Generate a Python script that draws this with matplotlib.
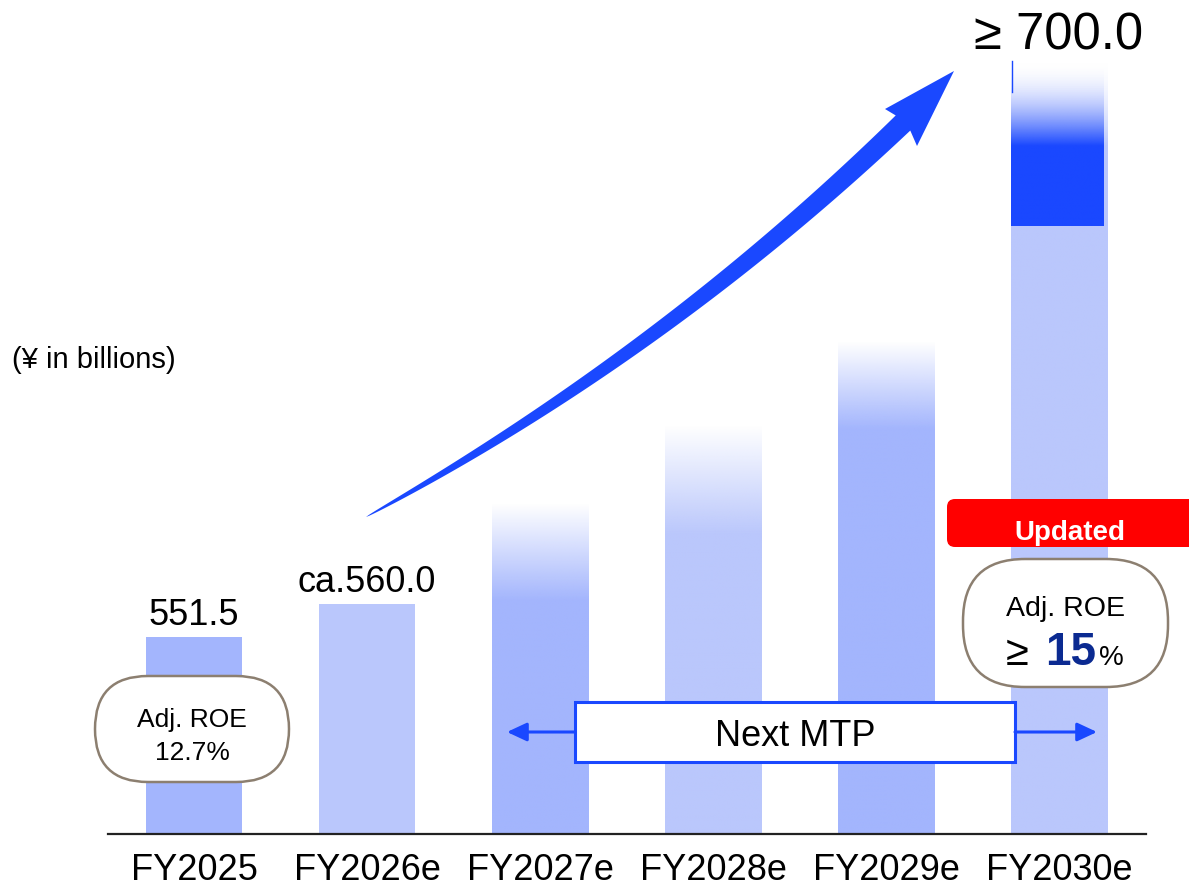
import numpy as np
import matplotlib
matplotlib.use("Agg")
import matplotlib.pyplot as plt
from matplotlib.patches import FancyBboxPatch, Rectangle, Polygon
from matplotlib.colors import to_rgba

plt.rcParams['font.family'] = ['Liberation Sans', 'DejaVu Sans']

# ---- data ----
years = ["FY2025", "FY2026e", "FY2027e", "FY2028e", "FY2029e", "FY2030e"]
values = [551.5, 560.0, 586.0, 606.0, 627.5, 700.0]
value_labels = ["551.5", "ca.560.0", "", "", "", "≥ 700.0"]
fade_from = [None, None, 561.0, 578.0, 605.0, 678.0]   # solid fill ends, fade begins
upside_from = 657.4                                   # FY2030e dark upside segment start
roe_now = "12.7%"
roe_target = "15"

# ---- styles ----
C_DARK = "#A3B5FD"
C_LIGHT = "#BAC7FC"
C_BLUE = "#1A48FF"
C_NAVY = "#0B2A91"
C_EDGE = "#8C7F70"
bar_colors = [C_DARK, C_LIGHT, C_DARK, C_LIGHT, C_DARK, C_LIGHT]

W, H = 1189, 887
fig = plt.figure(figsize=(W / 100, H / 100), dpi=100)

base_px = 835
y0, y1 = 500.75, 715.85
ax = fig.add_axes([0, (H - base_px) / H, 1, base_px / H])
width = 0.555


def gradient_bar(x, lo, fade, hi, w, color, power=1.0, z=2):
    """Bar from lo to hi: solid up to `fade`, then fading to transparent at hi."""
    bar = ax.bar(x, hi - lo, bottom=lo, width=w, color='none', lw=0, zorder=z)[0]
    n = 600
    yy = np.linspace(lo, hi, n)
    s = np.clip((yy - fade) / (hi - fade), 0, 1)
    img = np.tile(np.array(to_rgba(color)), (n, 1, 1))
    img[:, 0, 3] = (1 - s) ** power
    im = ax.imshow(img, extent=(x - w, x + w, lo, hi), origin='lower',
                   aspect='auto', interpolation='bilinear', zorder=z)
    im.set_clip_path(bar)


for i, (v, f, c) in enumerate(zip(values, fade_from, bar_colors)):
    if f is None:
        ax.bar(i, v - y0, bottom=y0, width=width, color=c, lw=0, zorder=2)
    elif i < len(values) - 1:
        gradient_bar(i, y0, f, v, width, c)
    else:
        # light base bar plus a dark upside segment, both fading out at the top
        gradient_bar(i, y0, f, v, width, c, power=1.6)
        dw = width * 0.96
        dx = i - width / 2 + dw / 2
        gradient_bar(dx, upside_from, f, v, dw, C_BLUE, power=2.4, z=3)
        ax.plot([i - width / 2 + 0.003] * 2, [v - 8.0, v], color=C_BLUE, lw=1.0, zorder=3)

for i, (v, lab) in enumerate(zip(values, value_labels)):
    if lab:
        ax.annotate(lab, xy=(i, v), xytext=(0, 9.0), textcoords='offset points',
                    ha='center', va='baseline',
                    fontsize=36.5 if i == len(values) - 1 else 26, color='black', zorder=6)

ax.set_xlim(-1.1214, 5.7514)
ax.set_ylim(y0, y1)
ax.set_xticks(range(len(years)))
ax.set_xticklabels(years, fontsize=26)
ax.tick_params(axis='x', length=0, pad=13)
ax.set_yticks([])
for s in ['top', 'right', 'left']:
    ax.spines[s].set_visible(False)
ax.spines['bottom'].set_bounds(-0.5, 5.5)
ax.spines['bottom'].set_linewidth(1.6)
ax.spines['bottom'].set_color('#222222')
ax.patch.set_alpha(0)

# ---- overlay in pixel units for annotations ----
d = fig.add_axes([0, 0, 1, 1], zorder=5)
d.set_xlim(0, W)
d.set_ylim(H, 0)
d.axis('off')
d.patch.set_alpha(0)

d.text(12, 368, "(¥ in billions)", fontsize=21, ha='left', va='baseline')

# growth arrow: tapered quadratic curve with a swept head
P0 = np.array([366.0, 518.0])
P1 = np.array([663.0, 355.0])
P2 = np.array([903.0, 124.0])
t = np.linspace(0, 1, 200)[:, None]
B = (1 - t) ** 2 * P0 + 2 * (1 - t) * t * P1 + t ** 2 * P2
dB = 2 * (1 - t) * (P1 - P0) + 2 * t * (P2 - P1)
tang = dB / np.linalg.norm(dB, axis=1)[:, None]
nrm = np.column_stack([-tang[:, 1], tang[:, 0]])
hw = (21.0 * t[:, 0] ** 0.6 / 2)[:, None]
sideA = B + nrm * hw
sideB = B - nrm * hw
head = np.array([[917, 147], [954, 72], [885, 110]])
poly = np.vstack([sideA, head[:1], head[1:2], head[2:], sideB[::-1]])
d.add_patch(Polygon(poly, closed=True, facecolor=C_BLUE, edgecolor='none', zorder=6))

# Next MTP span
d.add_patch(Rectangle((575, 703), 440, 60, facecolor='white', edgecolor=C_BLUE, lw=2.2, zorder=5))
d.text(795, 746, "Next MTP", fontsize=26, ha='center', va='baseline', zorder=6)
arrow_kw = dict(arrowstyle='-|>,head_length=0.6,head_width=0.28', mutation_scale=20,
                lw=2.2, color=C_BLUE, shrinkA=0, shrinkB=0)
d.annotate('', xy=(507, 733), xytext=(575, 733), arrowprops=arrow_kw, zorder=5)
d.annotate('', xy=(1097, 733), xytext=(1015, 733), arrowprops=arrow_kw, zorder=5)

# ROE capsules
d.add_patch(FancyBboxPatch((95, 677), 194, 106, boxstyle="round,pad=0,rounding_size=53",
                           facecolor='white', edgecolor=C_EDGE, lw=1.8, zorder=5))
d.text(192, 727, "Adj. ROE", fontsize=19, ha='center', va='baseline', zorder=6)
d.text(192, 760, roe_now, fontsize=19, ha='center', va='baseline', zorder=6)

d.add_patch(FancyBboxPatch((947, 500), 260, 48, boxstyle="round,pad=0,rounding_size=8",
                           facecolor='#FF0000', edgecolor='none', zorder=5))
d.text(1070, 540, "Updated", fontsize=20, fontweight='bold', color='white',
       ha='center', va='baseline', zorder=6)

d.add_patch(FancyBboxPatch((963, 560), 205, 128, boxstyle="round,pad=0,rounding_size=62",
                           facecolor='white', edgecolor=C_EDGE, lw=1.8, zorder=5))
d.text(1065, 616, "Adj. ROE", fontsize=20.5, ha='center', va='baseline', zorder=6)
d.text(1006, 665, "≥", fontsize=30, ha='left', va='baseline', zorder=6)
d.text(1045, 665, roe_target, fontsize=33, fontweight='bold', color=C_NAVY,
       ha='left', va='baseline', zorder=6)
d.text(1099, 665, "%", fontsize=20, ha='left', va='baseline', zorder=6)

fig.savefig("out.png", dpi=100, facecolor='white')
